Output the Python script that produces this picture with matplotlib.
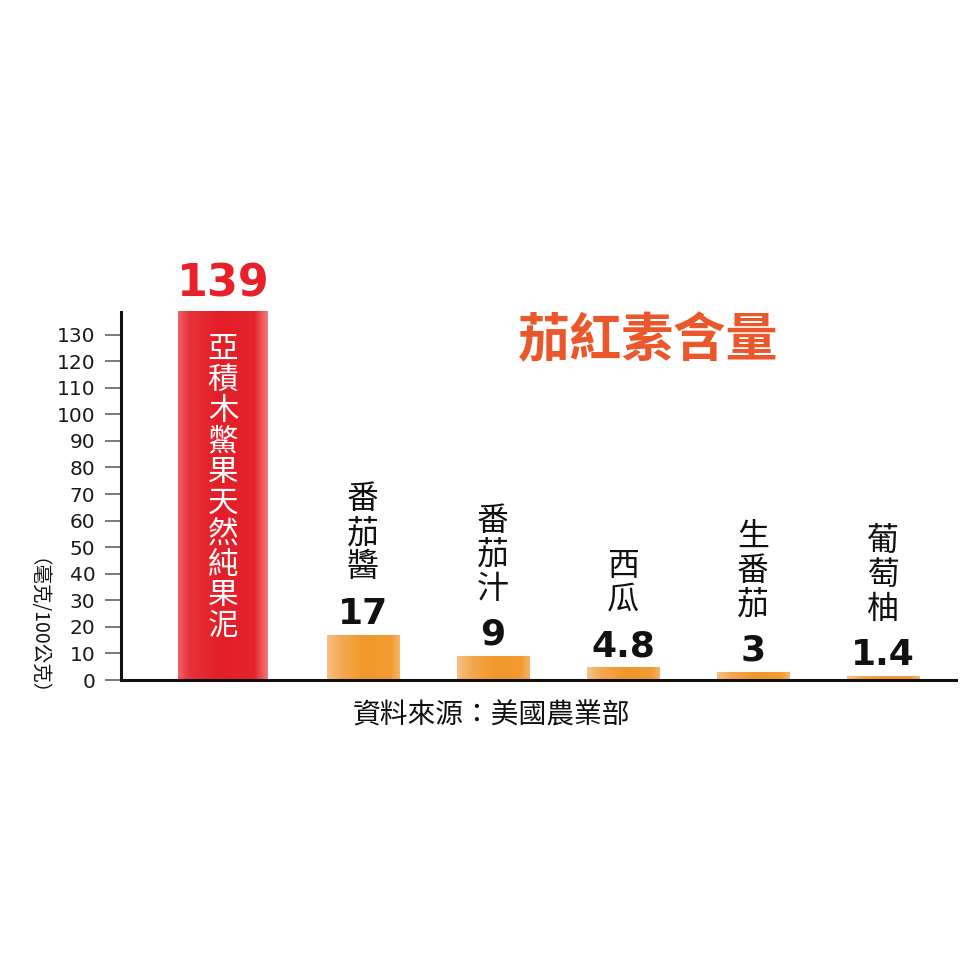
import numpy as np
import matplotlib
matplotlib.use('Agg')
import matplotlib.pyplot as plt
from matplotlib.colors import LinearSegmentedColormap

# ---- data ----
categories = ['亞積木鱉果天然純果泥', '番茄醬', '番茄汁', '西瓜', '生番茄', '葡萄柚']
values = [139, 17, 9, 4.8, 3, 1.4]
value_labels = ['139', '17', '9', '4.8', '3', '1.4']
yticks = list(range(0, 131, 10))
title = '茄紅素含量'
ylabel = '（毫克/100公克）'
source = '資料來源：美國農業部'

CJK = ['Noto Sans CJK TC', 'DejaVu Sans']
plt.rcParams['font.family'] = CJK

W = 966
fig = plt.figure(figsize=(9.66, 9.66), dpi=100)
fig.patch.set_facecolor('white')
ax = fig.add_axes([121 / W, 1 - 680 / W, (956 - 121) / W, (680 - 312) / W])

pos = np.arange(len(values), dtype=float)
pos[0] -= 0.077
widths = [0.685] + [0.554] * (len(values) - 1)

red_cmap = LinearSegmentedColormap.from_list('r', [
    (0.0, '#EF6366'), (0.12, '#E8343C'), (0.45, '#E31E28'),
    (0.85, '#E5242D'), (1.0, '#F27B7C')])
org_cmap = LinearSegmentedColormap.from_list('o', [
    (0.0, '#F7C28A'), (0.2, '#F4A84E'), (0.5, '#F2992C'),
    (0.88, '#F29B30'), (1.0, '#F5B56C')])

grad = np.linspace(0, 1, 256).reshape(1, -1)
bars = ax.bar(pos, values, width=widths, color='none', edgecolor='none', zorder=2)
for i, (b, v) in enumerate(zip(bars, values)):
    x0 = b.get_x()
    x1 = x0 + b.get_width()
    cmap = red_cmap if i == 0 else org_cmap
    im = ax.imshow(grad, cmap=cmap, extent=(x0, x1, 0, v), aspect='auto',
                   zorder=2, interpolation='bilinear')
    im.set_clip_path(b)

ax.set_xlim(1 - (363 - 121) / 130, 1 + (956 - 363) / 130)
ax.set_ylim(0, 138.5)

# labels
num_font = 'DejaVu Sans'
ax.annotate(value_labels[0], (pos[0], values[0]), xytext=(0, 10),
            textcoords='offset points', ha='center', va='baseline',
            fontsize=32, fontweight='bold', family=num_font, color='#E8202A',
            annotation_clip=False)
ax.annotate('\n'.join(categories[0]), (pos[0], values[0]), xytext=(0, -17),
            textcoords='offset points', ha='center', va='top',
            fontsize=22, color='white', linespacing=0.99,
            annotation_clip=False, zorder=3)

for i in range(1, len(values)):
    ax.annotate(value_labels[i], (pos[i], values[i]), xytext=(0, 8),
                textcoords='offset points', ha='center', va='baseline',
                fontsize=26, fontweight='bold', family=num_font, color='#111111')
    ax.annotate('\n'.join(categories[i]), (pos[i], values[i]), xytext=(0, 37),
                textcoords='offset points', ha='center', va='bottom',
                fontsize=23, color='#111111', linespacing=1.08)

# axes style
for s in ['top', 'right']:
    ax.spines[s].set_visible(False)
for s in ['left', 'bottom']:
    ax.spines[s].set_linewidth(2.2)
    ax.spines[s].set_color('#111111')
ax.set_xticks([])
ax.set_yticks(yticks)
ax.set_yticklabels([str(t) for t in yticks], family='DejaVu Sans', fontsize=14.5,
                   color='#1a1a1a')
ax.tick_params(axis='y', length=11.5, width=1.1, color='#555555', pad=7)

fig.text(648 / W, 1 - 341 / W, title, ha='center', va='center', fontsize=37.5,
         fontweight='bold', color='#E9572B')
fig.text(27 / W, 1 - 637 / W, ylabel, ha='center', va='center', rotation=-90,
         fontsize=14, color='#111111')
fig.text(491 / W, 1 - 715 / W, source, ha='center', va='center', fontsize=20,
         color='#111111')

fig.savefig('out.png', dpi=100, facecolor='white')
